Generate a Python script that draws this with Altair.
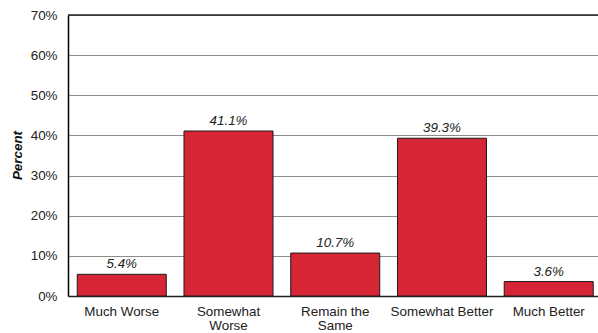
import altair as alt
import pandas as pd

# Survey responses and their shares (percent)
categories = ["Much Worse", "Somewhat Worse", "Remain the Same", "Somewhat Better", "Much Better"]
axis_labels = ["Much Worse", "Somewhat|Worse", "Remain the|Same", "Somewhat Better", "Much Better"]
percents = [5.4, 41.1, 10.7, 39.3, 3.6]
y_ticks = [0, 10, 20, 30, 40, 50, 60, 70]

df = pd.DataFrame({"category": axis_labels, "percent": percents})

FONT = "Liberation Sans"
FS = 13.4

x_enc = alt.X(
    "category:N",
    sort=axis_labels,
    scale=alt.Scale(paddingInner=0.166, paddingOuter=0.0657, align=0.66),
    axis=alt.Axis(
        title=None,
        labelAngle=0,
        labelExpr="split(datum.label, '|')",
        labelFont=FONT,
        labelFontSize=FS,
        labelColor="#222222",
        labelPadding=8,
        labelLineHeight=14,
        ticks=False,
        domainColor="#222222",
        domainWidth=1.5,
        grid=False,
    ),
)

y_scale = alt.Scale(domain=[0, 70], nice=False, zero=True)

bars = alt.Chart(df).mark_bar(
    color="#d62535", stroke="#1a1a1a", strokeWidth=1
).encode(
    x=x_enc,
    y=alt.Y(
        "percent:Q",
        scale=y_scale,
        axis=alt.Axis(
            title="Percent",
            titleFont=FONT,
            titleFontSize=FS,
            titleFontStyle="italic",
            titleFontWeight="bold",
            titleColor="#111111",
            titleX=-51,
            titleY=140,
            titleBaseline="middle",
            values=y_ticks,
            labelExpr="datum.value + '%'",
            labelFont=FONT,
            labelFontSize=FS,
            labelColor="#222222",
            labelPadding=11,
            ticks=False,
            domainColor="#000000",
            domainWidth=1.5,
            grid=True,
            gridColor="#8c8c8c",
            gridWidth=1,
        ),
    ),
)

labels = alt.Chart(df).mark_text(
    font=FONT, fontSize=FS, fontStyle="italic", color="#222222",
    baseline="bottom", dy=-3,
).encode(
    x=alt.X("category:N", sort=axis_labels),
    y=alt.Y("percent:Q", scale=y_scale),
    text=alt.Text("label:N"),
).transform_calculate(label="format(datum.percent, '.1f') + '%'")

top_line = alt.Chart(pd.DataFrame({"v": [70]})).mark_rule(
    color="#222222", strokeWidth=1.5
).encode(y=alt.Y("v:Q", scale=y_scale))

chart = (
    alt.layer(bars, labels, top_line)
    .properties(
        width=530,
        height=281,
        autosize=alt.AutoSizeParams(type="none"),
        padding={"left": 68, "top": 15, "right": 0, "bottom": 37},
        background="white",
    )
    .configure_view(stroke=None)
)

chart.save("out.html", embed_options={"renderer": "svg", "actions": False})
